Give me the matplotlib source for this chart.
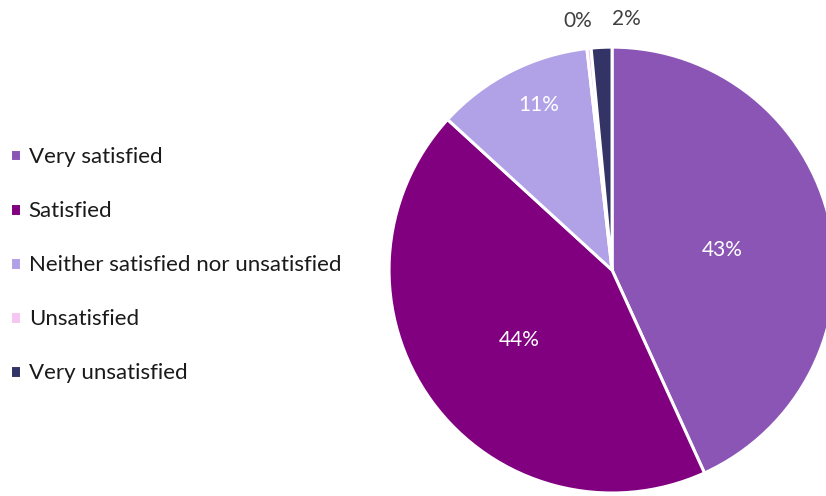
import numpy as np
import matplotlib.pyplot as plt

# survey responses (share of respondents, %)
categories = ['Very satisfied', 'Satisfied', 'Neither satisfied nor unsatisfied',
              'Unsatisfied', 'Very unsatisfied']
shares = [43.2, 43.6, 11.4, 0.3, 1.5]
colors = ['#8b55b5', '#800080', '#b1a2e8', '#f6c6f1', '#333366']

plt.rcParams['font.family'] = ['Lato', 'DejaVu Sans']

fig = plt.figure(figsize=(8.26, 4.96), dpi=100)
# pie axes, partly running off the right edge
ax = fig.add_axes([0.471, 0.006, 0.540, 0.899])
wedges, _ = ax.pie(shares, colors=colors, startangle=90, counterclock=False,
                   wedgeprops=dict(edgecolor='white', linewidth=2.2))
ax.set_xlim(-1, 1)
ax.set_ylim(-1, 1)
ax.set_aspect('auto')
ax.axis('off')

# label distance / angle nudge per slice
dist = [0.5, 0.52, 0.81, 1.13, 1.13]
nudge = [-2, 1, -3, 2, -6]
for w, v, d, n in zip(wedges, shares, dist, nudge):
    mid = np.deg2rad((w.theta1 + w.theta2) / 2 + n)
    inside = d < 1
    ax.text(d * np.cos(mid), d * np.sin(mid), '%.0f%%' % v,
            ha='center', va='center', fontsize=15,
            color='white' if inside else '#404040', clip_on=False)

fig.legend(wedges, categories, loc='upper left', bbox_to_anchor=(-0.007, 0.735),
           frameon=False, fontsize=16, labelcolor='#1a1a1a',
           handlelength=0.5, handleheight=0.5,
           handletextpad=0.35, labelspacing=1.535, borderaxespad=0.3)

plt.savefig('out.png', dpi=100)
